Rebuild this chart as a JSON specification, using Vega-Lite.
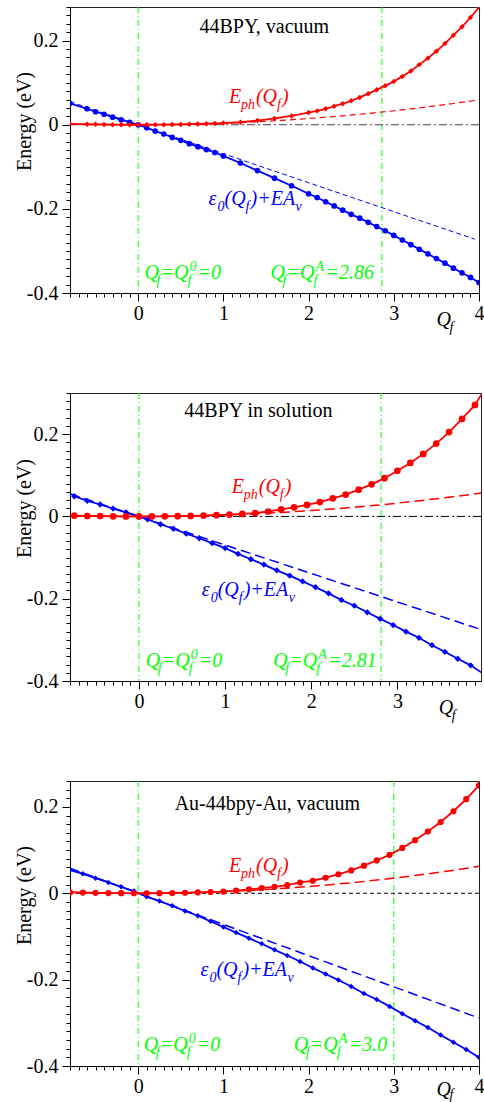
{
"$schema": "https://vega.github.io/schema/vega-lite/v6.json",
"padding": {"left": 13, "top": 6, "right": 0, "bottom": 0},
"spacing": 100,
"bounds": "flush",
"config": {
 "font": "Liberation Serif",
 "view": {"stroke": "#222", "strokeWidth": 1},
 "axis": {"domainColor": "#000", "tickColor": "#000", "labelFont": "Liberation Serif", "labelColor": "#000", "titleFont": "Liberation Serif", "titleFontSize": 20, "titleFontWeight": "normal", "titleColor": "#000", "grid": false, "labelOverlap": false, "labelFlush": false, "labelBound": false, "domainWidth": 1, "tickWidth": 1, "tickCount": 200},
 "axisX": {"labelPadding": 2},
 "axisY": {"labelPadding": 4, "titlePadding": -8},
 "text": {"font": "Liberation Serif", "fontSize": 20, "fontStyle": "italic", "align": "left", "baseline": "alphabetic"}
},
"datasets": {
 "v_r": [{"q":-0.8,"e":0.002},{"q":-0.6,"e":0.001},{"q":-0.5,"e":0.001},{"q":-0.4,"e":0.0006},{"q":-0.3,"e":0.0003},{"q":-0.2,"e":0.0001},{"q":-0.1,"e":0},{"q":0,"e":0},{"q":0.1,"e":0},{"q":0.2,"e":0.0002},{"q":0.3,"e":0.0003},{"q":0.4,"e":0.0006},{"q":0.5,"e":0.0009},{"q":0.6,"e":0.0013},{"q":0.7,"e":0.0018},{"q":0.8,"e":0.0024},{"q":0.9,"e":0.003},{"q":1.0,"e":0.004},{"q":1.2,"e":0.006},{"q":1.4,"e":0.010},{"q":1.6,"e":0.015},{"q":1.8,"e":0.021},{"q":2.0,"e":0.029},{"q":2.1,"e":0.033},{"q":2.2,"e":0.038},{"q":2.3,"e":0.044},{"q":2.4,"e":0.050},{"q":2.5,"e":0.057},{"q":2.6,"e":0.065},{"q":2.7,"e":0.074},{"q":2.8,"e":0.083},{"q":2.9,"e":0.093},{"q":3.0,"e":0.103},{"q":3.1,"e":0.115},{"q":3.2,"e":0.128},{"q":3.3,"e":0.143},{"q":3.4,"e":0.158},{"q":3.5,"e":0.175},{"q":3.6,"e":0.193},{"q":3.7,"e":0.213},{"q":3.8,"e":0.233},{"q":3.9,"e":0.255},{"q":4.0,"e":0.279}],
 "v_b": [{"q":-0.8,"e":0.051},{"q":-0.6,"e":0.038},{"q":-0.5,"e":0.031},{"q":-0.4,"e":0.025},{"q":-0.3,"e":0.018},{"q":-0.2,"e":0.012},{"q":-0.1,"e":0.006},{"q":0,"e":0},{"q":0.1,"e":-0.007},{"q":0.2,"e":-0.015},{"q":0.3,"e":-0.022},{"q":0.4,"e":-0.030},{"q":0.5,"e":-0.037},{"q":0.6,"e":-0.045},{"q":0.7,"e":-0.052},{"q":0.8,"e":-0.059},{"q":0.9,"e":-0.066},{"q":1.0,"e":-0.074},{"q":1.2,"e":-0.091},{"q":1.4,"e":-0.109},{"q":1.6,"e":-0.127},{"q":1.8,"e":-0.145},{"q":2.0,"e":-0.164},{"q":2.1,"e":-0.173},{"q":2.2,"e":-0.183},{"q":2.3,"e":-0.193},{"q":2.4,"e":-0.203},{"q":2.5,"e":-0.213},{"q":2.6,"e":-0.222},{"q":2.7,"e":-0.232},{"q":2.8,"e":-0.242},{"q":2.9,"e":-0.252},{"q":3.0,"e":-0.263},{"q":3.1,"e":-0.274},{"q":3.2,"e":-0.285},{"q":3.3,"e":-0.296},{"q":3.4,"e":-0.307},{"q":3.5,"e":-0.318},{"q":3.6,"e":-0.329},{"q":3.7,"e":-0.341},{"q":3.8,"e":-0.352},{"q":3.9,"e":-0.363},{"q":4.0,"e":-0.375}],
 "v_h": [{"q":-0.8,"e":0.0024},{"q":-0.4,"e":0.0006},{"q":0,"e":0},{"q":0.4,"e":0.0006},{"q":0.8,"e":0.0024},{"q":1.2,"e":0.0053},{"q":1.6,"e":0.0095},{"q":2.0,"e":0.0148},{"q":2.4,"e":0.0213},{"q":2.8,"e":0.029},{"q":3.2,"e":0.0379},{"q":3.6,"e":0.048},{"q":4.0,"e":0.059}],
 "v_l": [{"q":-0.8,"e":0.055},{"q":3.95,"e":-0.272}],
 "s_r": [{"q":-0.75,"e":0.002},{"q":-0.6,"e":0.001},{"q":-0.45,"e":0.001},{"q":-0.3,"e":0.0003},{"q":-0.15,"e":0.0001},{"q":0,"e":0},{"q":0.15,"e":0.0001},{"q":0.3,"e":0.0003},{"q":0.45,"e":0.0007},{"q":0.6,"e":0.0013},{"q":0.75,"e":0.002},{"q":0.9,"e":0.003},{"q":1.05,"e":0.0045},{"q":1.2,"e":0.006},{"q":1.35,"e":0.008},{"q":1.5,"e":0.012},{"q":1.65,"e":0.017},{"q":1.8,"e":0.022},{"q":1.95,"e":0.028},{"q":2.1,"e":0.035},{"q":2.25,"e":0.044},{"q":2.4,"e":0.053},{"q":2.55,"e":0.065},{"q":2.7,"e":0.078},{"q":2.85,"e":0.093},{"q":3.0,"e":0.111},{"q":3.15,"e":0.130},{"q":3.3,"e":0.152},{"q":3.45,"e":0.177},{"q":3.6,"e":0.205},{"q":3.75,"e":0.237},{"q":3.9,"e":0.271},{"q":4.0,"e":0.305}],
 "s_b": [{"q":-0.75,"e":0.049},{"q":-0.6,"e":0.038},{"q":-0.45,"e":0.029},{"q":-0.3,"e":0.019},{"q":-0.15,"e":0.010},{"q":0,"e":0},{"q":0.1,"e":-0.007},{"q":0.25,"e":-0.019},{"q":0.4,"e":-0.030},{"q":0.55,"e":-0.042},{"q":0.7,"e":-0.053},{"q":0.85,"e":-0.065},{"q":1.0,"e":-0.077},{"q":1.15,"e":-0.091},{"q":1.3,"e":-0.104},{"q":1.45,"e":-0.117},{"q":1.6,"e":-0.131},{"q":1.75,"e":-0.144},{"q":1.9,"e":-0.158},{"q":2.05,"e":-0.172},{"q":2.2,"e":-0.187},{"q":2.35,"e":-0.203},{"q":2.5,"e":-0.217},{"q":2.65,"e":-0.233},{"q":2.8,"e":-0.249},{"q":2.95,"e":-0.264},{"q":3.1,"e":-0.280},{"q":3.25,"e":-0.295},{"q":3.4,"e":-0.313},{"q":3.55,"e":-0.329},{"q":3.7,"e":-0.346},{"q":3.85,"e":-0.362},{"q":4.0,"e":-0.383}],
 "s_h": [{"q":-0.8,"e":0.0023},{"q":-0.4,"e":0.0006},{"q":0,"e":0},{"q":0.4,"e":0.0006},{"q":0.8,"e":0.0023},{"q":1.2,"e":0.0052},{"q":1.6,"e":0.0092},{"q":2.0,"e":0.0144},{"q":2.4,"e":0.0207},{"q":2.8,"e":0.0282},{"q":3.2,"e":0.0369},{"q":3.6,"e":0.0467},{"q":4.0,"e":0.0576}],
 "s_l": [{"q":-0.8,"e":0.055},{"q":4.0,"e":-0.277}],
 "a_r": [{"q":-0.8,"e":0.002},{"q":-0.65,"e":0.0016},{"q":-0.5,"e":0.001},{"q":-0.35,"e":0.0005},{"q":-0.2,"e":0.0002},{"q":-0.05,"e":0},{"q":0.1,"e":0},{"q":0.25,"e":0.0002},{"q":0.4,"e":0.0006},{"q":0.55,"e":0.0012},{"q":0.7,"e":0.002},{"q":0.85,"e":0.003},{"q":1.0,"e":0.004},{"q":1.15,"e":0.006},{"q":1.3,"e":0.009},{"q":1.45,"e":0.012},{"q":1.6,"e":0.015},{"q":1.75,"e":0.019},{"q":1.9,"e":0.025},{"q":2.05,"e":0.029},{"q":2.2,"e":0.036},{"q":2.35,"e":0.044},{"q":2.5,"e":0.053},{"q":2.65,"e":0.064},{"q":2.8,"e":0.076},{"q":2.95,"e":0.089},{"q":3.1,"e":0.105},{"q":3.25,"e":0.123},{"q":3.4,"e":0.143},{"q":3.55,"e":0.165},{"q":3.7,"e":0.190},{"q":3.85,"e":0.218},{"q":4.0,"e":0.250}],
 "a_b": [{"q":-0.8,"e":0.054},{"q":-0.65,"e":0.045},{"q":-0.5,"e":0.035},{"q":-0.35,"e":0.025},{"q":-0.2,"e":0.015},{"q":-0.05,"e":0.005},{"q":0.1,"e":-0.008},{"q":0.25,"e":-0.018},{"q":0.4,"e":-0.029},{"q":0.55,"e":-0.041},{"q":0.7,"e":-0.052},{"q":0.85,"e":-0.065},{"q":1.0,"e":-0.078},{"q":1.15,"e":-0.091},{"q":1.3,"e":-0.104},{"q":1.45,"e":-0.117},{"q":1.6,"e":-0.131},{"q":1.75,"e":-0.144},{"q":1.9,"e":-0.158},{"q":2.05,"e":-0.173},{"q":2.2,"e":-0.187},{"q":2.35,"e":-0.201},{"q":2.5,"e":-0.216},{"q":2.65,"e":-0.232},{"q":2.8,"e":-0.246},{"q":2.95,"e":-0.262},{"q":3.1,"e":-0.279},{"q":3.25,"e":-0.295},{"q":3.4,"e":-0.311},{"q":3.55,"e":-0.328},{"q":3.7,"e":-0.345},{"q":3.85,"e":-0.362},{"q":4.0,"e":-0.380}],
 "a_h": [{"q":-0.8,"e":0.0025},{"q":-0.4,"e":0.0006},{"q":0,"e":0},{"q":0.4,"e":0.0006},{"q":0.8,"e":0.0025},{"q":1.2,"e":0.0056},{"q":1.6,"e":0.01},{"q":2.0,"e":0.0156},{"q":2.4,"e":0.0225},{"q":2.8,"e":0.0306},{"q":3.2,"e":0.04},{"q":3.6,"e":0.0505},{"q":4.0,"e":0.0624}],
 "a_l": [{"q":-0.8,"e":0.058},{"q":4.0,"e":-0.289}]
},
"vconcat": [
 {
  "width": 409, "height": 286,
  "layer": [
   {"data": {"values": [{"q":0},{"q":2.86}]}, "mark": {"type":"rule","color":"#00ff00","strokeWidth":1,"strokeDash":[6,3,1,3]}, "encoding": {"x": {"field":"q","type":"quantitative","title":null}}},
   {"data": {"values": [{}]}, "mark": {"type":"rule","color":"#444","strokeWidth":1,"strokeDash":[8,3,2,3]}, "encoding": {"y": {"datum": 0}}},
   {"data": {"name":"v_l"}, "mark": {"type":"line","color":"#0000ff","strokeWidth":1,"strokeDash":[5,3],"clip":true},
    "encoding": {
     "x": {"field":"q","type":"quantitative","title":null,"scale":{"domain":[-0.8,4],"nice":false,"zero":false},
       "axis":{"tickCount":200,"values":[-0.8,-0.7,-0.6,-0.5,-0.4,-0.3,-0.2,-0.1,0,0.1,0.2,0.3,0.4,0.5,0.6,0.7,0.8,0.9,1,1.1,1.2,1.3,1.4,1.5,1.6,1.7,1.8,1.9,2,2.1,2.2,2.3,2.4,2.5,2.6,2.7,2.8,2.9,3,3.1,3.2,3.3,3.4,3.5,3.6,3.7,3.8,3.9,4],
        "tickSize":{"condition":{"test":"abs(datum.value-round(datum.value))<0.001","value":8},"value":4},
        "labelFontSize":{"condition":{"test":"abs(datum.value-round(datum.value))<0.001","value":20},"value":0},
        "labelExpr":"abs(datum.value-round(datum.value))<0.001 ? ''+round(datum.value) : ''"}},
     "y": {"field":"e","type":"quantitative","title":"Energy (eV)","scale":{"domain":[-0.4,0.28],"nice":false,"zero":false},
       "axis":{"tickCount":200,"titleY":114,"values":[-0.4,-0.38,-0.36,-0.34,-0.32,-0.3,-0.28,-0.26,-0.24,-0.22,-0.2,-0.18,-0.16,-0.14,-0.12,-0.1,-0.08,-0.06,-0.04,-0.02,0,0.02,0.04,0.06,0.08,0.1,0.12,0.14,0.16,0.18,0.2,0.22,0.24,0.26,0.28],
        "tickSize":{"condition":{"test":"abs(datum.value*5-round(datum.value*5))<0.001","value":8},"value":4},
        "labelFontSize":{"condition":{"test":"abs(datum.value*5-round(datum.value*5))<0.001","value":20},"value":0},
        "labelExpr":"abs(datum.value*5-round(datum.value*5))<0.001 ? (round(datum.value*5)==0 ? '0' : (datum.value<0 ? '-' : '') + '0.' + (abs(round(datum.value*5))*2)) : ''"}}
    }},
   {"data": {"name":"v_h"}, "mark": {"type":"line","color":"#ff0000","strokeWidth":1.2,"strokeDash":[6,4],"interpolate":"monotone","clip":true}, "encoding": {"x": {"field":"q","type":"quantitative","title":null}, "y": {"field":"e","type":"quantitative","title":"Energy (eV)"}}},
   {"data": {"name":"v_b"}, "mark": {"type":"line","color":"#0000ff","strokeWidth":1.8,"clip":true}, "encoding": {"x": {"field":"q","type":"quantitative","title":null}, "y": {"field":"e","type":"quantitative","title":"Energy (eV)"}}},
   {"data": {"name":"v_b"}, "mark": {"type":"point","shape":"circle","filled":true,"size":32,"color":"#0000ff","opacity":1,"clip":true}, "encoding": {"x": {"field":"q","type":"quantitative","title":null}, "y": {"field":"e","type":"quantitative","title":"Energy (eV)"}}},
   {"data": {"name":"v_r"}, "mark": {"type":"line","color":"#ff0000","strokeWidth":1.8,"clip":true}, "encoding": {"x": {"field":"q","type":"quantitative","title":null}, "y": {"field":"e","type":"quantitative","title":"Energy (eV)"}}},
   {"data": {"name":"v_r"}, "mark": {"type":"point","shape":"diamond","filled":true,"size":30,"color":"#ff0000","opacity":1,"clip":true}, "encoding": {"x": {"field":"q","type":"quantitative","title":null}, "y": {"field":"e","type":"quantitative","title":"Energy (eV)"}}},
   {"data": {"values":[{}]}, "mark": {"type":"text","text":"44BPY, vacuum","fontStyle":"normal","align":"center","color":"#000"}, "encoding": {"x": {"datum": 1.48}, "y": {"datum": 0.217}}},
   {"data": {"values":[{}]}, "encoding": {"x": {"datum": 1.065}, "y": {"datum": 0.052}}, "layer": [
     {"mark": {"type":"text","text":"E","color":"#ff0000"}},
     {"mark": {"type":"text","text":"ph","color":"#ff0000","fontSize":14,"dx":12,"dy":6}},
     {"mark": {"type":"text","text":"(Q","color":"#ff0000","dx":27}},
     {"mark": {"type":"text","text":"f","color":"#ff0000","fontSize":14,"dx":48,"dy":6}},
     {"mark": {"type":"text","text":")","color":"#ff0000","dx":53}}
   ]},
   {"data": {"values":[{}]}, "encoding": {"x": {"datum": 0.826}, "y": {"datum": -0.191}}, "layer": [
     {"mark": {"type":"text","text":"ε","color":"#0000ff"}},
     {"mark": {"type":"text","text":"0","color":"#0000ff","fontSize":14,"dx":9,"dy":6}},
     {"mark": {"type":"text","text":"(Q","color":"#0000ff","dx":16}},
     {"mark": {"type":"text","text":"f","color":"#0000ff","fontSize":14,"dx":37,"dy":6}},
     {"mark": {"type":"text","text":")+EA","color":"#0000ff","dx":42}},
     {"mark": {"type":"text","text":"v","color":"#0000ff","fontSize":14,"dx":87,"dy":6}}
   ]},
   {"data": {"values":[{}]}, "encoding": {"x": {"datum": 0.074}, "y": {"datum": -0.366}}, "layer": [
     {"mark": {"type":"text","text":"Q","color":"#00ff00"}},
     {"mark": {"type":"text","text":"f","color":"#00ff00","fontSize":14,"dx":12,"dy":6}},
     {"mark": {"type":"text","text":"=Q","color":"#00ff00","dx":16}},
     {"mark": {"type":"text","text":"f","color":"#00ff00","fontSize":14,"dx":43,"dy":6}},
     {"mark": {"type":"text","text":"0","color":"#00ff00","fontSize":14,"dx":45,"dy":-8}},
     {"mark": {"type":"text","text":"=0","color":"#00ff00","dx":53}}
   ]},
   {"data": {"values":[{}]}, "encoding": {"x": {"datum": 1.553}, "y": {"datum": -0.366}}, "layer": [
     {"mark": {"type":"text","text":"Q","color":"#00ff00"}},
     {"mark": {"type":"text","text":"f","color":"#00ff00","fontSize":14,"dx":12,"dy":6}},
     {"mark": {"type":"text","text":"=Q","color":"#00ff00","dx":16}},
     {"mark": {"type":"text","text":"f","color":"#00ff00","fontSize":14,"dx":43,"dy":6}},
     {"mark": {"type":"text","text":"A","color":"#00ff00","fontSize":14,"dx":45,"dy":-8}},
     {"mark": {"type":"text","text":"=2.86","color":"#00ff00","dx":55}}
   ]},
   {"data": {"values":[{}]}, "encoding": {"x": {"datum": 3.5}, "y": {"datum": -0.4}}, "layer": [
     {"mark": {"type":"text","text":"Q","color":"#000","dy":33}},
     {"mark": {"type":"text","text":"f","color":"#000","fontSize":14,"dx":13,"dy":39}}
   ]}
  ]
 },
 {
  "width": 411, "height": 288,
  "layer": [
   {"data": {"values": [{"q":0},{"q":2.81}]}, "mark": {"type":"rule","color":"#00ff00","strokeWidth":1,"strokeDash":[6,3,1,3]}, "encoding": {"x": {"field":"q","type":"quantitative","title":null}}},
   {"data": {"values": [{}]}, "mark": {"type":"rule","color":"#000","strokeWidth":1,"strokeDash":[8,3,2,3]}, "encoding": {"y": {"datum": 0}}},
   {"data": {"name":"s_l"}, "mark": {"type":"line","color":"#0000ff","strokeWidth":1.5,"strokeDash":[10,5],"clip":true},
    "encoding": {
     "x": {"field":"q","type":"quantitative","title":null,"scale":{"domain":[-0.8,3.97],"nice":false,"zero":false},
       "axis":{"tickCount":200,"values":[-0.8,-0.7,-0.6,-0.5,-0.4,-0.3,-0.2,-0.1,0,0.1,0.2,0.3,0.4,0.5,0.6,0.7,0.8,0.9,1,1.1,1.2,1.3,1.4,1.5,1.6,1.7,1.8,1.9,2,2.1,2.2,2.3,2.4,2.5,2.6,2.7,2.8,2.9,3,3.1,3.2,3.3,3.4,3.5,3.6,3.7,3.8,3.9],
        "tickSize":{"condition":{"test":"abs(datum.value-round(datum.value))<0.001","value":8},"value":4},
        "labelFontSize":{"condition":{"test":"abs(datum.value-round(datum.value))<0.001","value":20},"value":0},
        "labelExpr":"abs(datum.value-round(datum.value))<0.001 ? ''+round(datum.value) : ''"}},
     "y": {"field":"e","type":"quantitative","title":"Energy (eV)","scale":{"domain":[-0.4,0.3],"nice":false,"zero":false},
       "axis":{"tickCount":200,"titleY":115,"values":[-0.4,-0.38,-0.36,-0.34,-0.32,-0.3,-0.28,-0.26,-0.24,-0.22,-0.2,-0.18,-0.16,-0.14,-0.12,-0.1,-0.08,-0.06,-0.04,-0.02,0,0.02,0.04,0.06,0.08,0.1,0.12,0.14,0.16,0.18,0.2,0.22,0.24,0.26,0.28,0.3],
        "tickSize":{"condition":{"test":"abs(datum.value*5-round(datum.value*5))<0.001","value":8},"value":4},
        "labelFontSize":{"condition":{"test":"abs(datum.value*5-round(datum.value*5))<0.001","value":20},"value":0},
        "labelExpr":"abs(datum.value*5-round(datum.value*5))<0.001 ? (round(datum.value*5)==0 ? '0' : (datum.value<0 ? '-' : '') + '0.' + (abs(round(datum.value*5))*2)) : ''"}}
    }},
   {"data": {"name":"s_h"}, "mark": {"type":"line","color":"#ff0000","strokeWidth":1.5,"strokeDash":[10,5],"interpolate":"monotone","clip":true}, "encoding": {"x": {"field":"q","type":"quantitative","title":null}, "y": {"field":"e","type":"quantitative","title":"Energy (eV)"}}},
   {"data": {"name":"s_b"}, "mark": {"type":"line","color":"#0000ff","strokeWidth":1.8,"clip":true}, "encoding": {"x": {"field":"q","type":"quantitative","title":null}, "y": {"field":"e","type":"quantitative","title":"Energy (eV)"}}},
   {"data": {"name":"s_b"}, "transform": [{"filter": "datum.q < 3.96"}], "mark": {"type":"point","shape":"diamond","filled":true,"size":40,"color":"#0000ff","opacity":1,"clip":true}, "encoding": {"x": {"field":"q","type":"quantitative","title":null}, "y": {"field":"e","type":"quantitative","title":"Energy (eV)"}}},
   {"data": {"name":"s_r"}, "mark": {"type":"line","color":"#ff0000","strokeWidth":1.8,"clip":true}, "encoding": {"x": {"field":"q","type":"quantitative","title":null}, "y": {"field":"e","type":"quantitative","title":"Energy (eV)"}}},
   {"data": {"name":"s_r"}, "transform": [{"filter": "datum.q < 3.96"}], "mark": {"type":"point","shape":"circle","filled":true,"size":45,"color":"#ff0000","opacity":1,"clip":true}, "encoding": {"x": {"field":"q","type":"quantitative","title":null}, "y": {"field":"e","type":"quantitative","title":"Energy (eV)"}}},
   {"data": {"values":[{}]}, "mark": {"type":"text","text":"44BPY in solution","fontStyle":"normal","align":"center","color":"#000"}, "encoding": {"x": {"datum": 1.387}, "y": {"datum": 0.241}}},
   {"data": {"values":[{}]}, "encoding": {"x": {"datum": 1.077}, "y": {"datum": 0.057}}, "layer": [
     {"mark": {"type":"text","text":"E","color":"#ff0000"}},
     {"mark": {"type":"text","text":"ph","color":"#ff0000","fontSize":14,"dx":12,"dy":6}},
     {"mark": {"type":"text","text":"(Q","color":"#ff0000","dx":27}},
     {"mark": {"type":"text","text":"f","color":"#ff0000","fontSize":14,"dx":48,"dy":6}},
     {"mark": {"type":"text","text":")","color":"#ff0000","dx":53}}
   ]},
   {"data": {"values":[{}]}, "encoding": {"x": {"datum": 0.728}, "y": {"datum": -0.194}}, "layer": [
     {"mark": {"type":"text","text":"ε","color":"#0000ff"}},
     {"mark": {"type":"text","text":"0","color":"#0000ff","fontSize":14,"dx":9,"dy":6}},
     {"mark": {"type":"text","text":"(Q","color":"#0000ff","dx":16}},
     {"mark": {"type":"text","text":"f","color":"#0000ff","fontSize":14,"dx":37,"dy":6}},
     {"mark": {"type":"text","text":")+EA","color":"#0000ff","dx":42}},
     {"mark": {"type":"text","text":"v","color":"#0000ff","fontSize":14,"dx":87,"dy":6}}
   ]},
   {"data": {"values":[{}]}, "encoding": {"x": {"datum": 0.078}, "y": {"datum": -0.365}}, "layer": [
     {"mark": {"type":"text","text":"Q","color":"#00ff00"}},
     {"mark": {"type":"text","text":"f","color":"#00ff00","fontSize":14,"dx":12,"dy":6}},
     {"mark": {"type":"text","text":"=Q","color":"#00ff00","dx":16}},
     {"mark": {"type":"text","text":"f","color":"#00ff00","fontSize":14,"dx":43,"dy":6}},
     {"mark": {"type":"text","text":"0","color":"#00ff00","fontSize":14,"dx":45,"dy":-8}},
     {"mark": {"type":"text","text":"=0","color":"#00ff00","dx":53}}
   ]},
   {"data": {"values":[{}]}, "encoding": {"x": {"datum": 1.56}, "y": {"datum": -0.365}}, "layer": [
     {"mark": {"type":"text","text":"Q","color":"#00ff00"}},
     {"mark": {"type":"text","text":"f","color":"#00ff00","fontSize":14,"dx":12,"dy":6}},
     {"mark": {"type":"text","text":"=Q","color":"#00ff00","dx":16}},
     {"mark": {"type":"text","text":"f","color":"#00ff00","fontSize":14,"dx":43,"dy":6}},
     {"mark": {"type":"text","text":"A","color":"#00ff00","fontSize":14,"dx":45,"dy":-8}},
     {"mark": {"type":"text","text":"=2.81","color":"#00ff00","dx":55}}
   ]},
   {"data": {"values":[{}]}, "encoding": {"x": {"datum": 3.48}, "y": {"datum": -0.4}}, "layer": [
     {"mark": {"type":"text","text":"Q","color":"#000","dy":33}},
     {"mark": {"type":"text","text":"f","color":"#000","fontSize":14,"dx":13,"dy":39}}
   ]}
  ]
 },
 {
  "width": 409, "height": 285,
  "layer": [
   {"data": {"values": [{"q":0},{"q":3.0}]}, "mark": {"type":"rule","color":"#00ff00","strokeWidth":1,"strokeDash":[6,3,1,3]}, "encoding": {"x": {"field":"q","type":"quantitative","title":null}}},
   {"data": {"values": [{}]}, "mark": {"type":"rule","color":"#000","strokeWidth":1,"strokeDash":[4,3]}, "encoding": {"y": {"datum": 0}}},
   {"data": {"name":"a_l"}, "mark": {"type":"line","color":"#0000ff","strokeWidth":1.5,"strokeDash":[10,5],"clip":true},
    "encoding": {
     "x": {"field":"q","type":"quantitative","title":null,"scale":{"domain":[-0.8,4],"nice":false,"zero":false},
       "axis":{"tickCount":200,"values":[-0.8,-0.7,-0.6,-0.5,-0.4,-0.3,-0.2,-0.1,0,0.1,0.2,0.3,0.4,0.5,0.6,0.7,0.8,0.9,1,1.1,1.2,1.3,1.4,1.5,1.6,1.7,1.8,1.9,2,2.1,2.2,2.3,2.4,2.5,2.6,2.7,2.8,2.9,3,3.1,3.2,3.3,3.4,3.5,3.6,3.7,3.8,3.9,4],
        "tickSize":{"condition":{"test":"abs(datum.value-round(datum.value))<0.001","value":8},"value":4},
        "labelFontSize":{"condition":{"test":"abs(datum.value-round(datum.value))<0.001","value":20},"value":0},
        "labelExpr":"abs(datum.value-round(datum.value))<0.001 ? ''+round(datum.value) : ''"}},
     "y": {"field":"e","type":"quantitative","title":"Energy (eV)","scale":{"domain":[-0.4,0.26],"nice":false,"zero":false},
       "axis":{"tickCount":200,"titleY":114,"values":[-0.4,-0.38,-0.36,-0.34,-0.32,-0.3,-0.28,-0.26,-0.24,-0.22,-0.2,-0.18,-0.16,-0.14,-0.12,-0.1,-0.08,-0.06,-0.04,-0.02,0,0.02,0.04,0.06,0.08,0.1,0.12,0.14,0.16,0.18,0.2,0.22,0.24,0.26],
        "tickSize":{"condition":{"test":"abs(datum.value*5-round(datum.value*5))<0.001","value":8},"value":4},
        "labelFontSize":{"condition":{"test":"abs(datum.value*5-round(datum.value*5))<0.001","value":20},"value":0},
        "labelExpr":"abs(datum.value*5-round(datum.value*5))<0.001 ? (round(datum.value*5)==0 ? '0' : (datum.value<0 ? '-' : '') + '0.' + (abs(round(datum.value*5))*2)) : ''"}}
    }},
   {"data": {"name":"a_h"}, "mark": {"type":"line","color":"#ff0000","strokeWidth":1.5,"strokeDash":[10,5],"interpolate":"monotone","clip":true}, "encoding": {"x": {"field":"q","type":"quantitative","title":null}, "y": {"field":"e","type":"quantitative","title":"Energy (eV)"}}},
   {"data": {"name":"a_b"}, "mark": {"type":"line","color":"#0000ff","strokeWidth":1.8,"clip":true}, "encoding": {"x": {"field":"q","type":"quantitative","title":null}, "y": {"field":"e","type":"quantitative","title":"Energy (eV)"}}},
   {"data": {"name":"a_b"}, "mark": {"type":"point","shape":"diamond","filled":true,"size":30,"color":"#0000ff","opacity":1,"clip":true}, "encoding": {"x": {"field":"q","type":"quantitative","title":null}, "y": {"field":"e","type":"quantitative","title":"Energy (eV)"}}},
   {"data": {"name":"a_r"}, "mark": {"type":"line","color":"#ff0000","strokeWidth":1.8,"clip":true}, "encoding": {"x": {"field":"q","type":"quantitative","title":null}, "y": {"field":"e","type":"quantitative","title":"Energy (eV)"}}},
   {"data": {"name":"a_r"}, "mark": {"type":"point","shape":"circle","filled":true,"size":38,"color":"#ff0000","opacity":1,"clip":true}, "encoding": {"x": {"field":"q","type":"quantitative","title":null}, "y": {"field":"e","type":"quantitative","title":"Energy (eV)"}}},
   {"data": {"values":[{}]}, "mark": {"type":"text","text":"Au-44bpy-Au, vacuum","fontStyle":"normal","align":"center","color":"#000"}, "encoding": {"x": {"datum": 1.517}, "y": {"datum": 0.192}}},
   {"data": {"values":[{}]}, "encoding": {"x": {"datum": 1.067}, "y": {"datum": 0.050}}, "layer": [
     {"mark": {"type":"text","text":"E","color":"#ff0000"}},
     {"mark": {"type":"text","text":"ph","color":"#ff0000","fontSize":14,"dx":12,"dy":6}},
     {"mark": {"type":"text","text":"(Q","color":"#ff0000","dx":27}},
     {"mark": {"type":"text","text":"f","color":"#ff0000","fontSize":14,"dx":48,"dy":6}},
     {"mark": {"type":"text","text":")","color":"#ff0000","dx":53}}
   ]},
   {"data": {"values":[{}]}, "encoding": {"x": {"datum": 0.731}, "y": {"datum": -0.192}}, "layer": [
     {"mark": {"type":"text","text":"ε","color":"#0000ff"}},
     {"mark": {"type":"text","text":"0","color":"#0000ff","fontSize":14,"dx":9,"dy":6}},
     {"mark": {"type":"text","text":"(Q","color":"#0000ff","dx":16}},
     {"mark": {"type":"text","text":"f","color":"#0000ff","fontSize":14,"dx":37,"dy":6}},
     {"mark": {"type":"text","text":")+EA","color":"#0000ff","dx":42}},
     {"mark": {"type":"text","text":"v","color":"#0000ff","fontSize":14,"dx":87,"dy":6}}
   ]},
   {"data": {"values":[{}]}, "encoding": {"x": {"datum": 0.066}, "y": {"datum": -0.366}}, "layer": [
     {"mark": {"type":"text","text":"Q","color":"#00ff00"}},
     {"mark": {"type":"text","text":"f","color":"#00ff00","fontSize":14,"dx":12,"dy":6}},
     {"mark": {"type":"text","text":"=Q","color":"#00ff00","dx":16}},
     {"mark": {"type":"text","text":"f","color":"#00ff00","fontSize":14,"dx":43,"dy":6}},
     {"mark": {"type":"text","text":"0","color":"#00ff00","fontSize":14,"dx":45,"dy":-8}},
     {"mark": {"type":"text","text":"=0","color":"#00ff00","dx":53}}
   ]},
   {"data": {"values":[{}]}, "encoding": {"x": {"datum": 1.825}, "y": {"datum": -0.366}}, "layer": [
     {"mark": {"type":"text","text":"Q","color":"#00ff00"}},
     {"mark": {"type":"text","text":"f","color":"#00ff00","fontSize":14,"dx":12,"dy":6}},
     {"mark": {"type":"text","text":"=Q","color":"#00ff00","dx":16}},
     {"mark": {"type":"text","text":"f","color":"#00ff00","fontSize":14,"dx":43,"dy":6}},
     {"mark": {"type":"text","text":"A","color":"#00ff00","fontSize":14,"dx":45,"dy":-8}},
     {"mark": {"type":"text","text":"=3.0","color":"#00ff00","dx":55}}
   ]},
   {"data": {"values":[{}]}, "encoding": {"x": {"datum": 3.5}, "y": {"datum": -0.4}}, "layer": [
     {"mark": {"type":"text","text":"Q","color":"#000","dy":30}},
     {"mark": {"type":"text","text":"f","color":"#000","fontSize":14,"dx":13,"dy":33}}
   ]}
  ]
 }
]
}
